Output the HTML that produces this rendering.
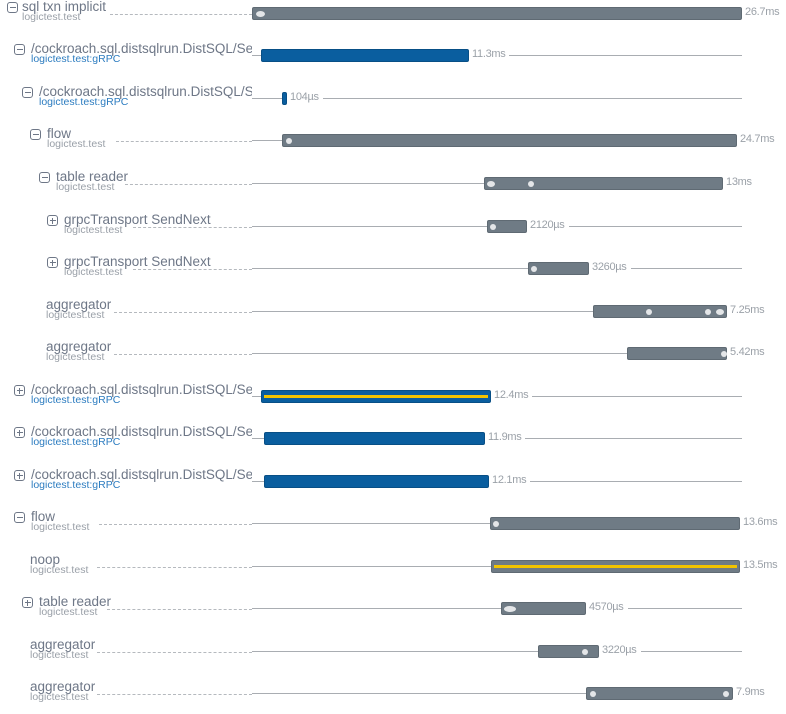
<!DOCTYPE html>
<html><head><meta charset="utf-8"><style>
body{margin:0;width:786px;height:714px;background:#fff;position:relative;overflow:hidden;font-family:"Liberation Sans",sans-serif}
.r{position:absolute;left:0;width:786px;height:0}
.t{position:absolute;top:-13px;font-size:13.5px;color:#6e7787;white-space:nowrap;overflow:hidden;line-height:14px}
.s{position:absolute;top:-1px;font-size:10.5px;color:#9aa0a8;white-space:nowrap;line-height:11px}
.s.b{color:#2c7cc0}
.ic{position:absolute;top:-11px;width:9px;height:9px;border:1px solid #6e7787;border-radius:3px}
.ic:before{content:"";position:absolute;left:1.5px;right:1.5px;top:4px;height:1px;background:#6e7787}
.ic.p:after{content:"";position:absolute;top:1.5px;bottom:1.5px;left:4px;width:1px;background:#6e7787}
.d{position:absolute;top:1px;height:0;border-top:1px dashed #b5b9be}
.l{position:absolute;top:0;height:1px;background:#a9adb2}
.bar{position:absolute;top:-6px;height:13px;border-radius:2px;background:#6f7b85;box-sizing:border-box;border:1px solid #5f6a73}
.bl{background:#0a5e9f;border-color:#084f86}
.y{position:absolute;left:2px;right:2px;top:4px;height:3px;background:#f2c300}
.dot{position:absolute;top:2.5px;width:6px;height:6px;border-radius:50%;background:#e4e6e8}
.lb{position:absolute;top:-7px;font-size:11px;color:#9ba1a8;background:#fff;padding:0 4px 0 3px;line-height:13px;letter-spacing:-0.3px}
</style></head><body>

<div class="r" style="top:13px"><div class="ic" style="left:7px"></div><div class="t" style="left:22px">sql txn implicit</div><div class="s" style="left:22px">logictest.test</div><div class="d" style="left:110px;width:142px"></div>
<div class="bar" style="left:252px;width:490px"><div class="dot" style="left:3px;width:9px"></div></div><div class="lb" style="left:742px">26.7ms</div></div>

<div class="r" style="top:55px"><div class="ic" style="left:14px"></div><div class="t" style="left:31px;width:221px">/cockroach.sql.distsqlrun.DistSQL/SetupFlow</div><div class="s b" style="left:31px">logictest.test:gRPC</div><div class="l" style="left:252px;width:490px"></div>
<div class="bar bl" style="left:261px;width:208px"></div><div class="lb" style="left:469px">11.3ms</div></div>

<div class="r" style="top:98px"><div class="ic" style="left:22px"></div><div class="t" style="left:39px;width:213px">/cockroach.sql.distsqlrun.DistSQL/SetupFlow</div><div class="s b" style="left:39px">logictest.test:gRPC</div><div class="l" style="left:252px;width:490px"></div>
<div class="bar bl" style="left:282px;width:5px"></div><div class="lb" style="left:287px">104µs</div></div>

<div class="r" style="top:140px"><div class="ic" style="left:30px"></div><div class="t" style="left:47px">flow</div><div class="s" style="left:47px">logictest.test</div><div class="d" style="left:116px;width:136px"></div><div class="l" style="left:252px;width:30px"></div>
<div class="bar" style="left:282px;width:455px"><div class="dot" style="left:3px"></div></div><div class="lb" style="left:737px">24.7ms</div></div>

<div class="r" style="top:183px"><div class="ic" style="left:39px"></div><div class="t" style="left:56px">table reader</div><div class="s" style="left:56px">logictest.test</div><div class="d" style="left:125px;width:127px"></div><div class="l" style="left:252px;width:232px"></div>
<div class="bar" style="left:484px;width:239px"><div class="dot" style="left:2px;width:8px"></div><div class="dot" style="left:43px"></div></div><div class="lb" style="left:723px">13ms</div></div>

<div class="r" style="top:226px"><div class="ic p" style="left:47px"></div><div class="t" style="left:64px">grpcTransport SendNext</div><div class="s" style="left:64px">logictest.test</div><div class="d" style="left:133px;width:119px"></div><div class="l" style="left:252px;width:490px"></div>
<div class="bar" style="left:487px;width:40px"><div class="dot" style="left:2px"></div></div><div class="lb" style="left:527px">2120µs</div></div>

<div class="r" style="top:268px"><div class="ic p" style="left:47px"></div><div class="t" style="left:64px">grpcTransport SendNext</div><div class="s" style="left:64px">logictest.test</div><div class="d" style="left:133px;width:119px"></div><div class="l" style="left:252px;width:490px"></div>
<div class="bar" style="left:528px;width:61px"><div class="dot" style="left:2px"></div></div><div class="lb" style="left:589px">3260µs</div></div>

<div class="r" style="top:311px"><div class="t" style="left:46px">aggregator</div><div class="s" style="left:46px">logictest.test</div><div class="d" style="left:114px;width:138px"></div><div class="l" style="left:252px;width:341px"></div>
<div class="bar" style="left:593px;width:134px"><div class="dot" style="left:52px"></div><div class="dot" style="left:111px"></div><div class="dot" style="left:122px;width:8px"></div></div><div class="lb" style="left:727px">7.25ms</div></div>

<div class="r" style="top:353px"><div class="t" style="left:46px">aggregator</div><div class="s" style="left:46px">logictest.test</div><div class="d" style="left:114px;width:138px"></div><div class="l" style="left:252px;width:375px"></div>
<div class="bar" style="left:627px;width:100px"><div class="dot" style="left:93px"></div></div><div class="lb" style="left:727px">5.42ms</div></div>

<div class="r" style="top:396px"><div class="ic p" style="left:14px"></div><div class="t" style="left:31px;width:221px">/cockroach.sql.distsqlrun.DistSQL/SetupFlow</div><div class="s b" style="left:31px">logictest.test:gRPC</div><div class="l" style="left:252px;width:490px"></div>
<div class="bar bl" style="left:261px;width:230px"><div class="y"></div></div><div class="lb" style="left:491px">12.4ms</div></div>

<div class="r" style="top:438px"><div class="ic p" style="left:14px"></div><div class="t" style="left:31px;width:221px">/cockroach.sql.distsqlrun.DistSQL/SetupFlow</div><div class="s b" style="left:31px">logictest.test:gRPC</div><div class="l" style="left:252px;width:490px"></div>
<div class="bar bl" style="left:264px;width:221px"></div><div class="lb" style="left:485px">11.9ms</div></div>

<div class="r" style="top:481px"><div class="ic p" style="left:14px"></div><div class="t" style="left:31px;width:221px">/cockroach.sql.distsqlrun.DistSQL/SetupFlow</div><div class="s b" style="left:31px">logictest.test:gRPC</div><div class="l" style="left:252px;width:490px"></div>
<div class="bar bl" style="left:264px;width:225px"></div><div class="lb" style="left:489px">12.1ms</div></div>

<div class="r" style="top:523px"><div class="ic" style="left:14px"></div><div class="t" style="left:31px">flow</div><div class="s" style="left:31px">logictest.test</div><div class="d" style="left:99px;width:153px"></div><div class="l" style="left:252px;width:238px"></div>
<div class="bar" style="left:490px;width:250px"><div class="dot" style="left:2px"></div></div><div class="lb" style="left:740px">13.6ms</div></div>

<div class="r" style="top:566px"><div class="t" style="left:30px">noop</div><div class="s" style="left:30px">logictest.test</div><div class="d" style="left:97px;width:155px"></div><div class="l" style="left:252px;width:239px"></div>
<div class="bar" style="left:491px;width:249px"><div class="y"></div></div><div class="lb" style="left:740px">13.5ms</div></div>

<div class="r" style="top:608px"><div class="ic p" style="left:22px"></div><div class="t" style="left:39px">table reader</div><div class="s" style="left:39px">logictest.test</div><div class="d" style="left:107px;width:145px"></div><div class="l" style="left:252px;width:490px"></div>
<div class="bar" style="left:501px;width:85px"><div class="dot" style="left:2px;width:12px"></div></div><div class="lb" style="left:586px">4570µs</div></div>

<div class="r" style="top:651px"><div class="t" style="left:30px">aggregator</div><div class="s" style="left:30px">logictest.test</div><div class="d" style="left:97px;width:155px"></div><div class="l" style="left:252px;width:490px"></div>
<div class="bar" style="left:538px;width:61px"><div class="dot" style="left:43px"></div></div><div class="lb" style="left:599px">3220µs</div></div>

<div class="r" style="top:693px"><div class="t" style="left:30px">aggregator</div><div class="s" style="left:30px">logictest.test</div><div class="d" style="left:97px;width:155px"></div><div class="l" style="left:252px;width:334px"></div>
<div class="bar" style="left:586px;width:147px"><div class="dot" style="left:3px"></div><div class="dot" style="left:136px"></div></div><div class="lb" style="left:733px">7.9ms</div></div>

</body></html>
